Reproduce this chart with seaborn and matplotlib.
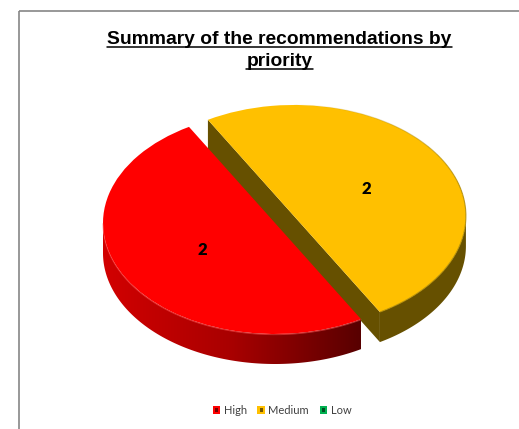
import numpy as np
import matplotlib
matplotlib.use("Agg")
import matplotlib.pyplot as plt
from matplotlib.colors import LinearSegmentedColormap
from matplotlib.legend_handler import HandlerPatch
from matplotlib.lines import Line2D
from matplotlib.patches import Rectangle, Polygon
import seaborn as sns

# Chart data
priorities = ["High", "Medium", "Low"]
counts = [2, 2, 0]
slice_colors = ["#ff0000", "#ffc000", "#00b050"]
explode = [0, 0.127, 0]
title_lines = ["Summary of the recommendations by", "priority"]

W, H = 519, 429
CX, CY = 275, 223      # pie centre on the canvas, pixels
RX, RY = 172, 111      # tilted pie radii, pixels
DEPTH = 30 / RY        # thickness of the disc in data units
START = 120

sns.set_theme(style="white")
plt.rcParams["font.family"] = ["Lato", "DejaVu Sans"]

fig = plt.figure(figsize=(W / 100, H / 100), dpi=100, facecolor="white")
ax = fig.add_axes([0, 0, 1, 1])


def value_label(pct):
    value = round(pct * sum(counts) / 100)
    return str(value) if value else ""


wedges, _, value_texts = ax.pie(
    counts, colors=sns.color_palette(slice_colors), explode=explode,
    startangle=START, autopct=value_label, pctdistance=0.485,
    wedgeprops=dict(linewidth=0, edgecolor="none"),
    textprops=dict(fontsize=12, fontweight="heavy", color="black"),
)


def arc(wedge, t0, t1, n=200):
    theta = np.radians(np.linspace(t0, t1, n))
    return wedge.center[0] + wedge.r * np.cos(theta), wedge.center[1] + wedge.r * np.sin(theta)


high, medium = wedges[0], wedges[1]
high.set_zorder(5)
medium.set_zorder(3)

# Side of the high slice, shaded from left to right
rim_cmap = LinearSegmentedColormap.from_list("rim", ["#d20000", "#a80000", "#580000"])
x_arc, y_arc = arc(high, 180, high.theta2, 240)
rim_high = Polygon(
    np.column_stack([np.r_[x_arc, x_arc[::-1]], np.r_[y_arc, y_arc[::-1] - DEPTH]]),
    closed=True, fc="none", ec="none", transform=ax.transData)
ax.add_patch(rim_high)
shade = ax.imshow(np.linspace(0, 1, 256).reshape(1, -1), cmap=rim_cmap, aspect="auto", zorder=4,
                  extent=(x_arc.min(), x_arc.max(), y_arc.min() - DEPTH, y_arc.max()))
shade.set_clip_path(rim_high)
ax.plot(x_arc, y_arc - 0.006, color="#ff5050", lw=0.7, alpha=0.55, zorder=6)

# Side and cut face of the medium slice
wall_color = "#665000"
x_arc, y_arc = arc(medium, medium.theta1, 360)
ax.add_patch(Polygon(
    np.column_stack([np.r_[x_arc, x_arc[::-1]], np.r_[y_arc, y_arc[::-1] - DEPTH]]),
    closed=True, fc=wall_color, ec="none", zorder=2))
x_cut, y_cut = arc(medium, medium.theta2, medium.theta1, 2)
ax.add_patch(Polygon(
    [(x_cut[0], y_cut[0]), (x_cut[1], y_cut[1]),
     (x_cut[1], y_cut[1] - DEPTH), (x_cut[0], y_cut[0] - DEPTH)],
    closed=True, fc=wall_color, ec="none", zorder=2))

# Soft dark edge along the outer curve of the medium slice, fading towards the back
x_edge, y_edge = arc(medium, medium.theta1, 450, 60)
for i in range(len(x_edge) - 1):
    fade = 0.8 * min(1.0, (len(x_edge) - 1 - i) / 30)
    ax.plot(x_edge[i:i + 2], y_edge[i:i + 2], color="#a98500", lw=0.8, alpha=fade,
            solid_capstyle="butt", zorder=4)

for t in value_texts:
    t.set_zorder(8)

# Flatten the circle into a tilted disc spanning the whole canvas
ax.set_aspect("auto")
ax.set_xlim(-CX / RX, (W - CX) / RX)
ax.set_ylim(-(H - CY) / RY, CY / RY)

# Chart frame: only the top and left sides fall on the canvas
fig.add_artist(Rectangle((19 / W, 1 - 10.8 / H), 1.2, -1.2, transform=fig.transFigure,
                         fc="none", ec="#868686", lw=1.2))

# Underlined two-line title
fig.canvas.draw()
renderer = fig.canvas.get_renderer()
for line, base_px, rule_px in zip(title_lines, (43.5, 66), (46.8, 69.3)):
    t = fig.text(279.5 / W, 1 - base_px / H, line, ha="center", va="baseline",
                 fontsize=13.9, fontweight="bold", color="black",
                 family=["Liberation Sans", "DejaVu Sans"])
    box = t.get_window_extent(renderer)
    fig.add_artist(Line2D([box.x0 / W, box.x1 / W], [1 - rule_px / H] * 2,
                          transform=fig.transFigure, color="black", lw=1.1))


class BevelHandler(HandlerPatch):
    """Small square key with a darker centre, like a bevelled swatch."""

    def create_artists(self, legend, orig, xd, yd, width, height, fontsize, trans):
        side = min(width, height)
        x0, y0 = -xd + (width - side) / 2, -yd + (height - side) / 2
        base = Rectangle((x0, y0), side, side, fc=orig.get_facecolor(), ec="none", transform=trans)
        mid = Rectangle((x0 + side * 0.3, y0 + side * 0.25), side * 0.4, side * 0.5,
                        fc=tuple(np.array(orig.get_facecolor()[:3]) * 0.45), ec="none", transform=trans)
        return [base, mid]


fig.legend(wedges, priorities, loc="center", bbox_to_anchor=(282 / W, 1 - 410 / H),
           ncol=3, frameon=False, fontsize=8, labelcolor="#404040",
           handlelength=0.7, handleheight=0.7, handletextpad=0.3, columnspacing=0.95,
           borderpad=0, handler_map={type(high): BevelHandler()})

fig.savefig("out.png", dpi=100, facecolor="white")
